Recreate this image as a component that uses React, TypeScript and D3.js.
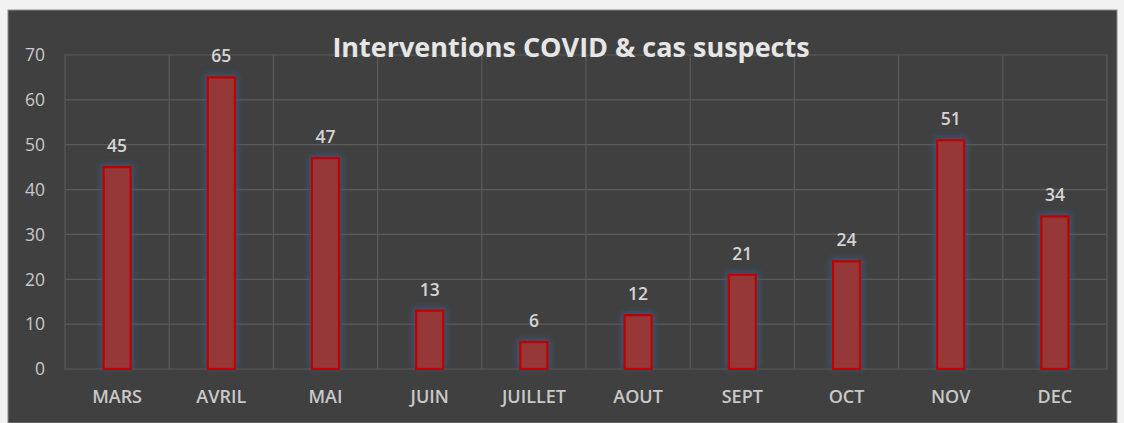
import React from "react";
import * as d3 from "d3";

const categories = ["MARS", "AVRIL", "MAI", "JUIN", "JUILLET", "AOUT", "SEPT", "OCT", "NOV", "DEC"];
const values = [45, 65, 47, 13, 6, 12, 21, 24, 51, 34];
const yTicks = [0, 10, 20, 30, 40, 50, 60, 70];
const title = "Interventions COVID & cas suspects";

export default function App() {
  const W = 1124, H = 423;
  const left = 65, right = 1107, top = 55, bottom = 369;
  const x = d3.scaleBand<string>().domain(categories).range([left, right]).paddingInner(0).paddingOuter(0);
  const y = d3.scaleLinear().domain([0, 70]).range([bottom, top]);
  const barW = 27;
  const font = "'Open Sans', 'Liberation Sans', sans-serif";
  return (
    <svg width={W} height={H} style={{ position: "absolute", left: 0, top: 0 }}>
      <defs>
        <filter id="glow" x="-50%" y="-20%" width="200%" height="140%">
          <feGaussianBlur stdDeviation="3" />
        </filter>
      </defs>
      <rect x={0} y={0} width={W} height={H} fill="#f2f2f2" />
      <rect x={8} y={10} width={1109} height={H - 10} fill="#404040" stroke="#8a8a8a" strokeWidth={1} />
      {yTicks.map(t => (
        <line key={"h" + t} x1={left} x2={right} y1={y(t)} y2={y(t)} stroke="#5b5b5b" strokeWidth={1.2} />
      ))}
      {categories.map(c => (
        <line key={"v" + c} x1={x(c)!} x2={x(c)!} y1={top} y2={bottom} stroke="#5b5b5b" strokeWidth={1.2} />
      ))}
      <line x1={right} x2={right} y1={top} y2={bottom} stroke="#5b5b5b" strokeWidth={1.2} />
      {yTicks.map(t => (
        <text key={"yt" + t} x={45} y={y(t)} dy="0.36em" textAnchor="end" fill="#c9c9c9" fontSize={17.5} fontFamily={font}>{t}</text>
      ))}
      {categories.map((c, i) => {
        const cx = x(c)! + x.bandwidth() / 2;
        const v = values[i];
        return (
          <g key={c}>
            <rect x={cx - barW / 2 - 3} y={y(v) - 3} width={barW + 6} height={bottom - y(v) + 3} fill="#3d5a80" opacity={0.85} filter="url(#glow)" />
            <rect x={cx - barW / 2} y={y(v)} width={barW} height={bottom - y(v)} fill="#963838" stroke="#c00000" strokeWidth={2.2} />
            <text x={cx} y={y(v) - 15} textAnchor="middle" fill="#d4d4d4" fontSize={17.5} fontWeight={600} fontFamily={font}>{v}</text>
            <text x={cx} y={403} textAnchor="middle" fill="#c9c9c9" fontSize={18} fontWeight={600} fontFamily={font}>{c}</text>
          </g>
        );
      })}
      <text x={571} y={57} textAnchor="middle" fill="#e6e6e6" fontSize={27} fontWeight={700} fontFamily={font}>{title}</text>
    </svg>
  );
}
